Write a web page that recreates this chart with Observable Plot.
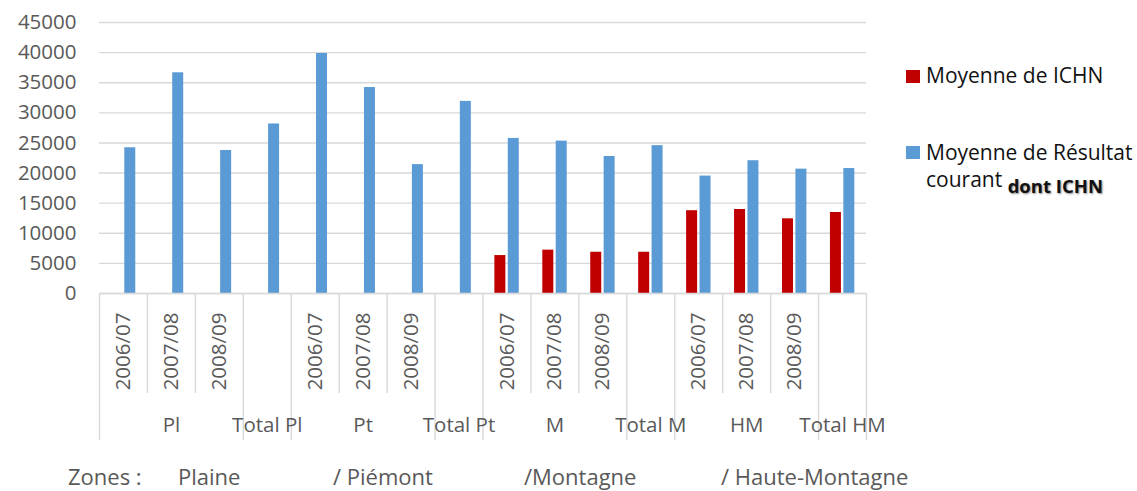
<!DOCTYPE html>
<html>
<head>
<meta charset="utf-8">
<script src="https://cdn.jsdelivr.net/npm/d3@7"></script>
<script src="https://cdn.jsdelivr.net/npm/@observablehq/plot@0.6"></script>
<style>
  html, body { margin: 0; padding: 0; background: white; }
  #wrap { position: relative; width: 1137px; height: 491px; overflow: hidden; font-family: "Open Sans", sans-serif; }
  .leg { position: absolute; font-size: 21px; line-height: 27px; color: #111; white-space: nowrap; }
  .sw { position: absolute; width: 14px; height: 13px; }
  .cap { position: absolute; top: 461px; font-size: 22px; line-height: 30px; color: #595959; white-space: nowrap; }
  .bold { font-weight: bold; font-size: 18.5px; text-shadow: 1px 1px 2px #888; position: relative; top: 6px; }
</style>
</head>
<body>
<div id="wrap"></div>
<script>
// ---- data ----
const catGroup = ["Pl","Pl","Pl","Total Pl","Pt","Pt","Pt","Total Pt","M","M","M","Total M","HM","HM","HM","Total HM"];
const catYear  = ["2006/07","2007/08","2008/09","","2006/07","2007/08","2008/09","","2006/07","2007/08","2008/09","","2006/07","2007/08","2008/09",""];
const ichn     = [null,null,null,null,null,null,null,null,6300,7200,6850,6850,13750,13950,12400,13450];
const resultat = [24200,36650,23750,28150,39850,34200,21400,31900,25750,25300,22750,24550,19500,22050,20650,20750];
const yTicks   = [0,5000,10000,15000,20000,25000,30000,35000,40000,45000];
const seriesNames = ["Moyenne de ICHN", "Moyenne de Résultat"];
const seriesColors = ["#C00000", "#5B9BD5"];
const zoneCaption = ["Zones :", "Plaine", "/ Piémont", "/Montagne", "/ Haute-Montagne"];

// ---- derived table ----
const keys = catGroup.map((g, i) => catYear[i] ? g + " " + catYear[i] : g);
const rows = keys.map((k, i) => ({key: k, group: catGroup[i], year: catYear[i], ichn: ichn[i], res: resultat[i]}));
const yearOf = Object.fromEntries(rows.map(r => [r.key, r.year]));
const groupTicks = rows.filter(r => r.year === "2007/08" || r.year === "").map(r => r.key);
const groupLabel = Object.fromEntries(rows.map(r => [r.key, r.group]));
const longSeps = rows.filter(r => r.year === "" || r.year === "2006/07").map(r => r.key);
const shortSeps = rows.filter(r => r.year === "2007/08" || r.year === "2008/09").map(r => r.key);

// ---- layout ----
const W = 1137, H = 458, mL = 99, mR = 271, mT = 22, mB = 165;
const frameH = H - mT - mB;
const step = (W - mL - mR) / keys.length;
const barW = 11;
const ins = (step - barW) / 2;
const gray = "#D9D9D9";

const chart = Plot.plot({
  width: W, height: H,
  marginLeft: mL, marginRight: mR, marginTop: mT, marginBottom: mB,
  style: {fontFamily: "'Open Sans', sans-serif", fontSize: "20.5px", color: "#595959", background: "white"},
  x: {domain: keys, padding: 0, round: false, axis: null, label: null},
  y: {domain: [0, 45000], axis: null, label: null},
  marks: [
    Plot.gridY(yTicks, {stroke: gray, strokeOpacity: 1, strokeWidth: 1.4}),
    Plot.axisY(yTicks, {tickSize: 0, tickPadding: 23, tickFormat: "d", fill: "#595959", label: null}),
    Plot.barY(rows, {x: "key", y: "ichn", fill: seriesColors[0], insetLeft: ins, insetRight: ins, dx: -6.6}),
    Plot.barY(rows, {x: "key", y: "res", fill: seriesColors[1], insetLeft: ins, insetRight: ins, dx: 6.8}),
    Plot.ruleY([0], {stroke: gray, strokeWidth: 1.4}),
    Plot.ruleX(shortSeps, {x: d => d, dx: -step / 2, stroke: gray, strokeWidth: 1.4, insetTop: frameH, insetBottom: -100}),
    Plot.ruleX(longSeps, {x: d => d, dx: -step / 2, stroke: gray, strokeWidth: 1.4, insetTop: frameH, insetBottom: -147}),
    Plot.ruleX([keys[keys.length - 1]], {x: d => d, dx: step / 2, stroke: gray, strokeWidth: 1.4, insetTop: frameH, insetBottom: -147}),
    Plot.axisX(keys, {tickSize: 0, tickPadding: 19, tickRotate: -90, tickFormat: k => yearOf[k], fill: "#595959", label: null}),
    Plot.axisX(groupTicks, {tickSize: 0, tickPadding: 124, tickFormat: k => groupLabel[k], fill: "#595959", label: null})
  ]
});

const wrap = document.getElementById("wrap");
wrap.appendChild(chart);

// legend
function addSwatch(color, left, top) {
  const s = document.createElement("div");
  s.className = "sw"; s.style.background = color; s.style.left = left + "px"; s.style.top = top + "px";
  wrap.appendChild(s);
}
addSwatch(seriesColors[0], 906, 70);
addSwatch(seriesColors[1], 906, 146);
const l1 = document.createElement("div");
l1.className = "leg"; l1.style.left = "926px"; l1.style.top = "62px";
l1.textContent = seriesNames[0];
wrap.appendChild(l1);
const l2 = document.createElement("div");
l2.className = "leg"; l2.style.left = "926px"; l2.style.top = "139px";
l2.innerHTML = seriesNames[1] + "<br>courant <span class='bold'>dont ICHN</span>";
wrap.appendChild(l2);

// caption
const capX = [68, 178, 333, 524, 721];
zoneCaption.forEach((t, i) => {
  const c = document.createElement("div");
  c.className = "cap"; c.style.left = capX[i] + "px"; c.textContent = t;
  wrap.appendChild(c);
});
</script>
</body>
</html>
